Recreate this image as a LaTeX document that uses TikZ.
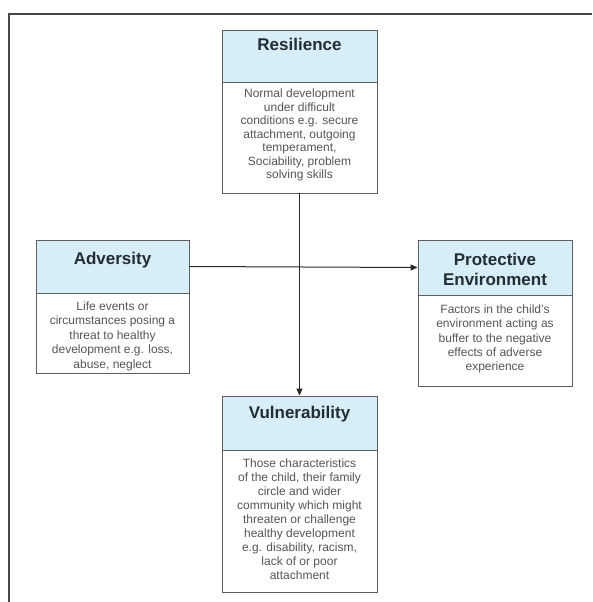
\documentclass[tikz,border=0pt]{standalone}
\usepackage{fontspec}
\setmainfont{Liberation Sans}
\usetikzlibrary{arrows.meta}
\definecolor{hdrfill}{RGB}{214,238,250}
\definecolor{bord}{RGB}{95,95,95}
\definecolor{bodytxt}{RGB}{85,85,85}
\definecolor{ttl}{RGB}{35,45,50}
\definecolor{framec}{RGB}{70,70,70}
\definecolor{linkc}{RGB}{40,40,40}
\tikzset{
  hdrbox/.style={draw=bord, line width=0.9pt, fill=hdrfill, rectangle, inner sep=0pt},
  bodybox/.style={draw=bord, line width=0.9pt, fill=white, rectangle, inner sep=0pt},
  ttltext/.style={anchor=north, inner sep=0pt, align=center, text=ttl, font=\bfseries\fontsize{17}{20}\selectfont},
  bodytext/.style={anchor=north, inner sep=0pt, align=center, text=bodytxt},
  link/.style={draw=linkc, line width=1pt, -{Triangle[length=7pt,width=6pt]}}
}
\begin{document}
\begin{tikzpicture}[x=1pt,y=-1pt]
\useasboundingbox (0,0) rectangle (592,602);
\draw[framec, line width=2.6pt] (9,602) -- (9,14) -- (592,14);

% Resilience
\node[hdrbox, minimum width=155pt, minimum height=52pt] (resh) at (299.5,56) {};
\node[bodybox, minimum width=155pt, minimum height=111pt] (resb) at (299.5,137.5) {};
\node[ttltext] (rest) at ([yshift=-8.7pt]resh.north) {Resilience};
\node[bodytext, font=\fontsize{12}{13.5}\selectfont] (resx) at ([yshift=-7.3pt]resb.north)
  {Normal development\\under difficult\\conditions e.g. secure\\attachment, outgoing\\temperament,\\Sociability, problem\\solving skills};

% Adversity
\node[hdrbox, minimum width=153pt, minimum height=53pt] (advh) at (112.5,266.5) {};
\node[bodybox, minimum width=153pt, minimum height=80pt] (advb) at (112.5,333) {};
\node[ttltext] (advt) at ([yshift=-12pt]advh.north) {Adversity};
\node[bodytext, font=\fontsize{12}{14.5}\selectfont] (advx) at ([yshift=-9pt]advb.north)
  {Life events or\\circumstances posing a\\threat to healthy\\development e.g. loss,\\abuse, neglect};

% Protective Environment
\node[hdrbox, minimum width=154pt, minimum height=55pt] (proh) at (495,267.5) {};
\node[bodybox, minimum width=154pt, minimum height=91pt] (prob) at (495,340.5) {};
\node[ttltext, font=\bfseries\fontsize{17}{20}\selectfont] (prot) at ([yshift=-13.7pt]proh.north) {Protective\\Environment};
\node[bodytext, font=\fontsize{12}{14.3}\selectfont] (prox) at ([yshift=-10pt]prob.north)
  {Factors in the child's\\environment acting as\\buffer to the negative\\effects of adverse\\experience};

% Vulnerability
\node[hdrbox, minimum width=155pt, minimum height=54pt] (vulh) at (299.5,423) {};
\node[bodybox, minimum width=155pt, minimum height=142pt] (vulb) at (299.5,521) {};
\node[ttltext] (vult) at ([yshift=-10.7pt]vulh.north) {Vulnerability};
\node[bodytext, font=\fontsize{12}{14}\selectfont] (vulx) at ([yshift=-9.5pt]vulb.north)
  {Those characteristics\\of the child, their family\\circle and wider\\community which might\\threaten or challenge\\healthy development\\e.g. disability, racism,\\lack of or poor\\attachment};

% connectors
\draw[link] (resb.south) -- (vulh.north);
\draw[link] (advh.east) -- (proh.west);
\end{tikzpicture}
\end{document}
